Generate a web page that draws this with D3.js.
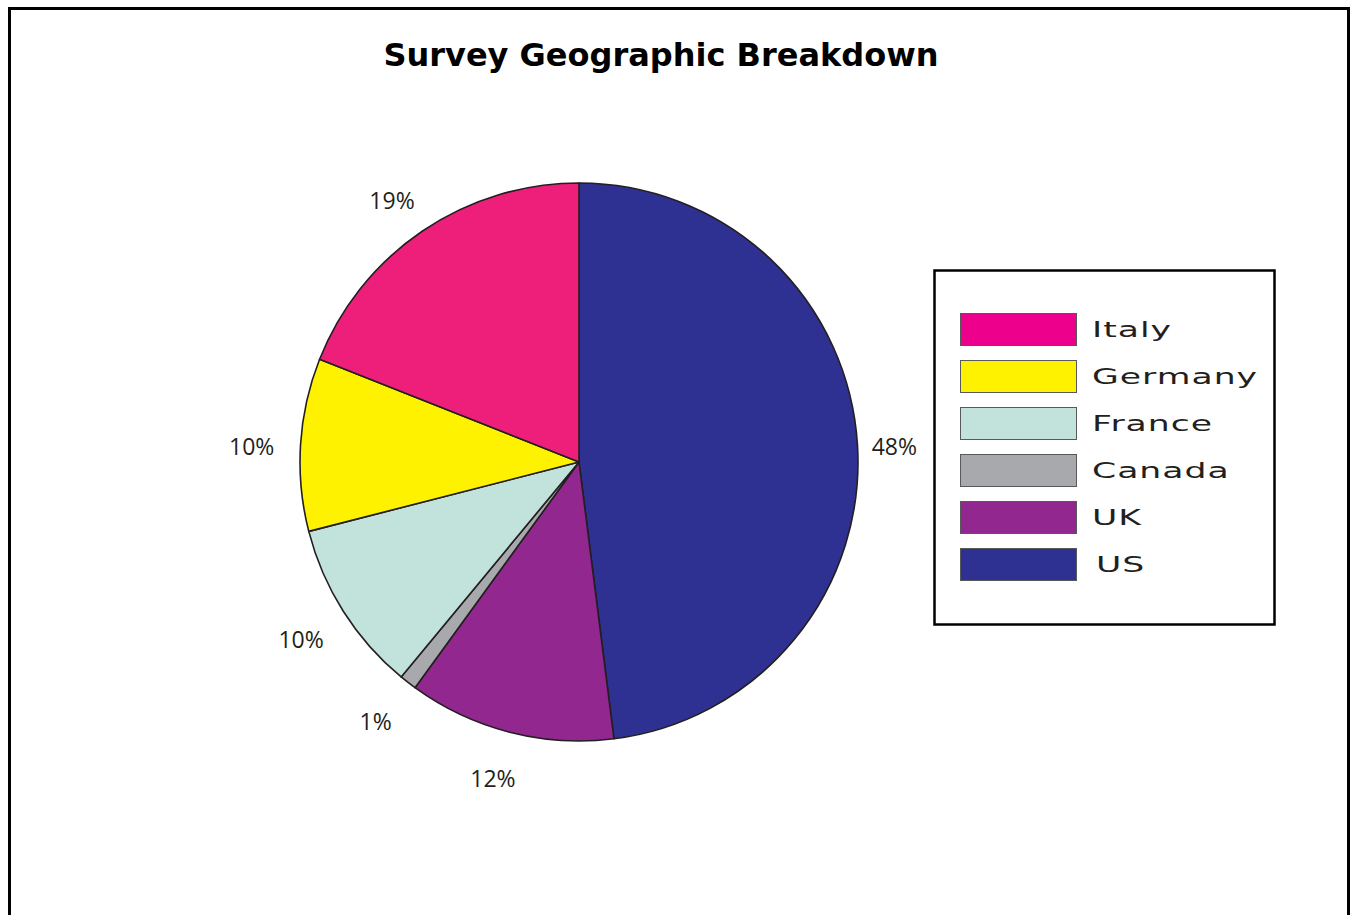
<!DOCTYPE html>
<html><head><meta charset="utf-8">
<script src="https://cdn.jsdelivr.net/npm/d3@7"></script>
<style>
html,body{margin:0;padding:0;background:#fff;overflow:hidden;}
</style></head>
<body>
<svg id="chart" width="1351" height="915"></svg>
<script>
const title = "Survey Geographic Breakdown";
const categories = ["US","UK","Canada","France","Germany","Italy"];
const values = [48, 12, 1, 10, 10, 19];
const sliceColors = ["#2E3192","#92278F","#A7A9AC","#C2E2DC","#FFF200","#ED1F7A"];
const legendOrder = ["Italy","Germany","France","Canada","UK","US"];
const legendColors = ["#EC008C","#FFF200","#C2E2DC","#A7A9AC","#92278F","#2E3192"];

const svg = d3.select("#chart");
svg.append("rect").attr("x",9.5).attr("y",8.5).attr("width",1339).attr("height",1000)
  .attr("fill","#fff").attr("stroke","#000").attr("stroke-width",3);

svg.append("text").attr("x",661).attr("y",66).attr("text-anchor","middle")
  .attr("font-family","DejaVu Sans, Verdana, sans-serif").attr("font-weight","bold")
  .attr("font-size",32).attr("fill","#000").text(title);

const cx = 579, cy = 462, R = 279;
const pie = d3.pie().sort(null).value(d=>d.v);
const data = categories.map((c,i)=>({c, v: values[i], color: sliceColors[i]}));
const arcs = pie(data);
const arc = d3.arc().innerRadius(0).outerRadius(R);
const labelArc = d3.arc().innerRadius(322).outerRadius(322);
const g = svg.append("g").attr("transform",`translate(${cx},${cy})`);
g.selectAll("path").data(arcs).join("path")
  .attr("d",arc).attr("fill",d=>d.data.color)
  .attr("stroke","#231F20").attr("stroke-width",1.6).attr("stroke-linejoin","round");
g.selectAll("text").data(arcs).join("text")
  .attr("transform",d=>{const [x,y]=labelArc.centroid(d); return `translate(${x-6},${y+5})`;})
  .attr("text-anchor","middle").attr("dy","0.36em")
  .attr("font-family","Open Sans, Liberation Sans, sans-serif").attr("font-size",23)
  .attr("fill","#231F20").text(d=>d.data.v+"%");

// legend
const lg = svg.append("g");
lg.append("rect").attr("x",934.5).attr("y",270.5).attr("width",340).attr("height",354)
  .attr("fill","#fff").attr("stroke","#000").attr("stroke-width",2.5);
const ly = d3.scaleBand().domain(legendOrder).range([313,580]).paddingInner(15/47).paddingOuter(0);
legendOrder.forEach((name,i)=>{
  lg.append("rect").attr("x",960.5).attr("y",ly(name)+0.5).attr("width",116).attr("height",ly.bandwidth())
    .attr("fill",legendColors[i]).attr("stroke","#58595B").attr("stroke-width",1);
  lg.append("text").attr("transform",`translate(${name==="US"?1096:1092},${ly(name)+ly.bandwidth()/2+8}) scale(1.65,1)`)
    .attr("font-family","DejaVu Sans, sans-serif").attr("font-size",21).attr("letter-spacing",0.6)
    .attr("fill","#231F20").text(name);
});
</script>
</body></html>
